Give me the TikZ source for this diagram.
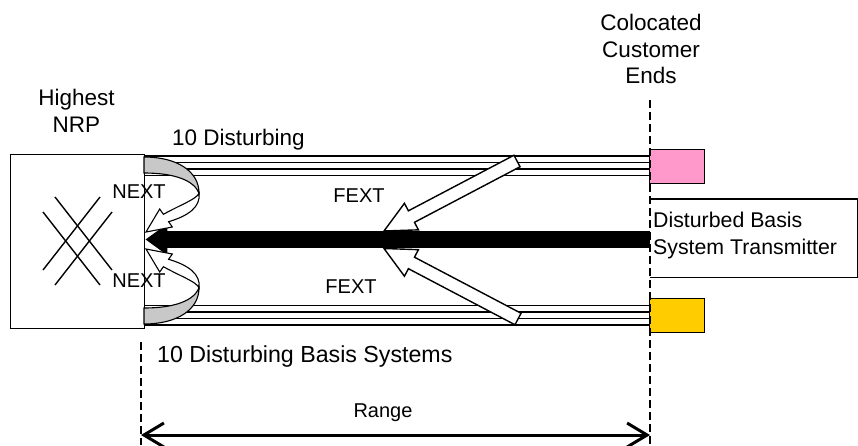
\documentclass[tikz,border=0pt]{standalone}
\usepackage{fontspec}
\setmainfont{Liberation Sans}
\usetikzlibrary{calc,arrows.meta}
\definecolor{pinkc}{HTML}{FF99CC}
\definecolor{yellowc}{HTML}{FFCC00}
\definecolor{grayc}{HTML}{C8C8C8}
\newcommand\blockarrow[2]{%
  \coordinate (hb) at ($(#1)!31pt!(#2)$);
  \draw[edge, fill=white] (#1) -- ($(hb)!15pt!90:(#2)$) -- ($(hb)!6.5pt!90:(#2)$)
    -- ($(#2)!6.5pt!-90:(hb)$) -- ($(#2)!6.5pt!90:(hb)$)
    -- ($(hb)!6.5pt!-90:(#2)$) -- ($(hb)!15pt!-90:(#2)$) -- cycle;}
\begin{document}
\begin{tikzpicture}[x=1pt,y=-1pt,
  big/.style={font=\fontsize{22.5}{26}\selectfont, inner sep=0pt},
  mid/.style={font=\fontsize{21.3}{25}\selectfont, inner sep=0pt},
  small/.style={font=\fontsize{20}{24}\selectfont, inner sep=0pt},
  wire/.style={line width=1.1pt},
  edge/.style={line width=1.4pt, line join=miter},
  dashline/.style={line width=2.6pt, dash pattern=on 8pt off 4pt},
  box/.style={draw, edge, inner sep=0pt, anchor=north west}]
\useasboundingbox (0,0) rectangle (858,445);
\fill[white] (0,0) rectangle (858,445);

% main box
\node[box, fill=white, minimum width=134pt, minimum height=174pt] (nrp) at (10,154) {};
\draw[edge] (55,197) -- (112,270);
\draw[edge] (43,212) -- (100,285);
\draw[edge] (100,197) -- (43,270);
\draw[edge] (112,212) -- (55,285);

% customer ends
\node[box, fill=pinkc, minimum width=55pt, minimum height=34pt] (pink) at (649,149) {};
\node[box, fill=yellowc, minimum width=55pt, minimum height=34pt] (yel) at (649,298) {};
\node[inner sep=0pt, minimum width=207pt, minimum height=78pt, anchor=north west] (dbox) at (650,199) {};
\draw[edge] (dbox.north west) -- (dbox.north east) -- (dbox.south east) -- (dbox.south west);

% wire groups
\foreach \yy in {156,162.5,169,175.5} {
  \draw[wire] (nrp.east |- 0,\yy) -- (pink.west |- 0,\yy);
}
\foreach \yy in {305.5,312,318.5,325} {
  \draw[wire] (nrp.east |- 0,\yy) -- (yel.west |- 0,\yy);
}

% disturbed line
\coordinate (bl) at (650,239.5);
\draw[line width=17pt, -{Triangle[length=22pt,width=30pt]}] (bl) -- (nrp.east |- bl);

% NEXT arrows
\draw[wire, fill=grayc] (144,157) .. controls (178,157) and (199,172) .. (199,193)
  .. controls (194,181) and (176,173) .. (144,173) -- cycle;
\draw[wire, fill=white] (199,193) .. controls (197,199) and (182,204) .. (163.4,214.3)
  -- (159.7,209) -- (146,232) -- (172.3,227) -- (168.6,221.7)
  .. controls (188,216) and (201,207) .. (199,193) -- cycle;
\draw[wire, fill=grayc] (144,324) .. controls (178,324) and (199,309) .. (199,288)
  .. controls (194,300) and (176,308) .. (144,308) -- cycle;
\draw[wire, fill=white] (199,288) .. controls (197,282) and (182,277) .. (163.4,266.7)
  -- (159.7,272) -- (146,249) -- (172.3,254) -- (168.6,259.3)
  .. controls (188,265) and (201,274) .. (199,288) -- cycle;

% FEXT arrows
\coordinate (ft1) at (384,231);
\coordinate (fs1) at (517,161);
\coordinate (ft2) at (384,248.5);
\coordinate (fs2) at (518,319);
\blockarrow{ft1}{fs1}
\blockarrow{ft2}{fs2}

% dashed verticals and range
\coordinate (rtop) at (650,100);
\coordinate (rbot) at (650,445);
\coordinate (ltop) at (141,342);
\coordinate (lbot) at (141,445);
\draw[dashline] (rtop) -- (rbot);
\draw[dashline] (ltop) -- (lbot);
\coordinate (ra) at (141,435);
\coordinate (rb) at (650,435);
\draw[line width=3pt, {Straight Barb[length=20pt,width=24pt]}-{Straight Barb[length=20pt,width=24pt]}] (ra) -- (rb);

% texts
\node[big, anchor=base] (h1) at (76.5,105) {Highest};
\node[big, anchor=base] (h2) at (76.5,132) {NRP};
\node[big, anchor=base] (c1) at (651,30) {Colocated};
\node[big, anchor=base] (c2) at (651,57) {Customer};
\node[big, anchor=base] (c3) at (651,83) {Ends};
\node[big, anchor=base west] (d1) at (172,145) {10 Disturbing};
\node[big, font=\fontsize{23.2}{27}\selectfont, anchor=base west] (d2) at (157,362) {10 Disturbing Basis Systems};
\node[mid, anchor=base west] (s1) at (653,227) {Disturbed Basis};
\node[mid, anchor=base west] (s2) at (653,254) {System Transmitter};
\node[small, anchor=base] (n1) at (139,198) {NEXT};
\node[small, anchor=base] (n2) at (139,287) {NEXT};
\node[small, anchor=base] (f1) at (359,202) {FEXT};
\node[small, anchor=base] (f2) at (351,293) {FEXT};
\node[small, anchor=base] (rg) at (383,417) {Range};
\end{tikzpicture}
\end{document}
